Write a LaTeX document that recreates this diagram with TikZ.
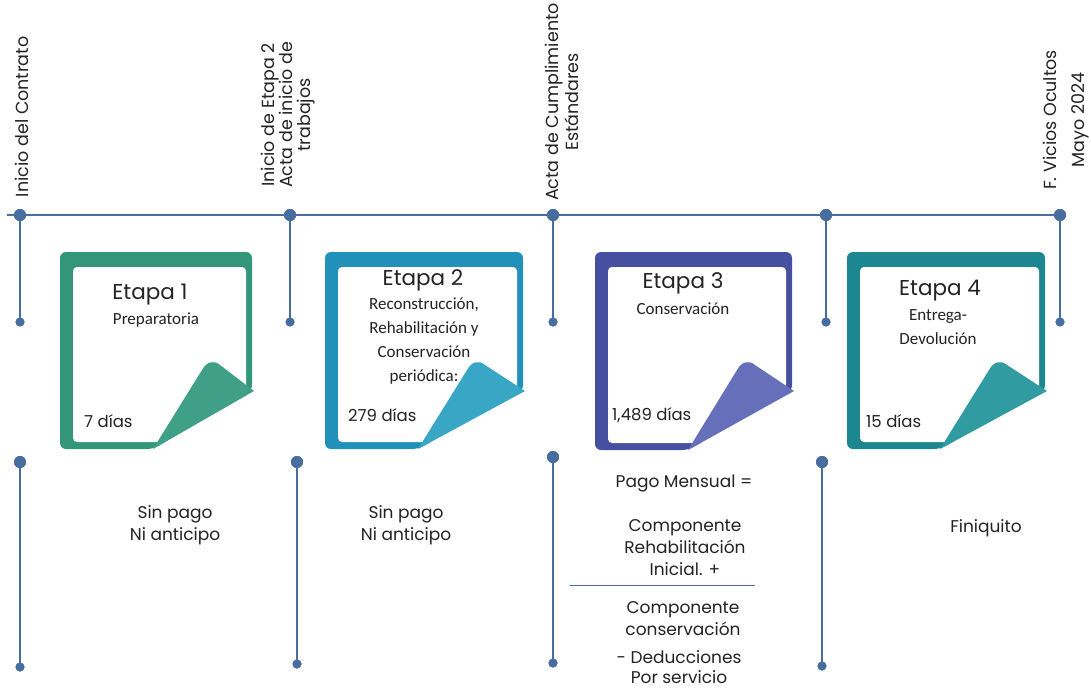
\documentclass[tikz,border=0pt]{standalone}
\usepackage{fontspec}
\setmainfont{Poppins}
\newfontfamily\calfont{Carlito}
\definecolor{tl}{RGB}{72,110,160}
\definecolor{txt}{RGB}{35,35,35}
\definecolor{g1}{RGB}{52,150,120}
\definecolor{g1f}{RGB}{64,160,135}
\definecolor{b2}{RGB}{33,145,185}
\definecolor{b2f}{RGB}{58,166,198}
\definecolor{v3}{RGB}{70,80,160}
\definecolor{v3f}{RGB}{102,112,186}
\definecolor{t4}{RGB}{28,135,145}
\definecolor{t4f}{RGB}{48,155,160}
\newcommand\drawcard[6]{%
  \begin{scope}[shift={(#1,#2)}]
    \fill[#5, rounded corners=6] (0,0) -- (#3,0) -- (#3,139) -- (93,#4) -- (0,#4) -- cycle;
    \fill[white, rounded corners=4] (13,15) rectangle (#3-6,#4-7);
    \fill[#6] (93,#4) -- (142,118) .. controls (147,109) and (154,108) .. (160,113) -- (#3+2,139) -- cycle;
  \end{scope}}
\begin{document}
\begin{tikzpicture}[x=1pt,y=-1pt,
  tline/.style={draw=tl, line width=2.6pt},
  thin rule/.style={draw=tl, line width=0.8pt},
  bigdot/.style={circle, fill=tl, inner sep=0, minimum size=12pt},
  smalldot/.style={circle, fill=tl, inner sep=0, minimum size=9pt},
  lab/.style={font=\fontsize{17.5}{18}\selectfont, text=txt, inner sep=0pt, align=center, rotate=90},
  etapa/.style={font=\fontsize{21.5}{24}\selectfont, text=txt, inner sep=0pt},
  sub/.style={font=\calfont\fontsize{17}{24}\selectfont, text=txt, align=center, inner sep=0pt},
  dias/.style={font=\fontsize{16.5}{18}\selectfont, text=txt, anchor=west, inner sep=0pt},
  note/.style={font=\fontsize{17}{22}\selectfont, text=txt, align=center, inner sep=0pt}]
\useasboundingbox (0,0) rectangle (1091,689);
\fill[white] (0,0) rectangle (1091,689);

% cards
\drawcard{60}{252}{192}{197}{g1}{g1f}
\drawcard{325}{252}{198}{197}{b2}{b2f}
\drawcard{595}{252}{197}{198}{v3}{v3f}
\drawcard{847}{252}{198}{197}{t4}{t4f}

% timeline
\coordinate (t0) at (7,215);
\node[bigdot] (t1) at (20,215) {};
\node[bigdot] (t2) at (290,215) {};
\node[bigdot] (t3) at (553,215) {};
\node[bigdot] (t4) at (826,215) {};
\node[bigdot] (t5) at (1060,215) {};
\draw[tline] (t0) -- (t5.center);
\node[smalldot] (s1) at (20,322) {};
\node[smalldot] (s2) at (290,322) {};
\node[smalldot] (s3) at (553,322) {};
\node[smalldot] (s4) at (826,322) {};
\node[smalldot] (s5) at (1060,322) {};
\foreach \i in {1,...,5} \draw[tline] (t\i.center) -- (s\i.center);
\foreach \i in {1,...,5} {\node[bigdot] at (t\i) {}; \node[smalldot] at (s\i) {};}

% bottom verticals
\node[bigdot] (u1) at (20,462) {};
\node[bigdot] (u2) at (297,462) {};
\node[bigdot] (u3) at (553,457) {};
\node[bigdot] (u4) at (822,462) {};
\node[smalldot] (v1) at (20,667) {};
\node[smalldot] (v2) at (297,664) {};
\node[smalldot] (v3) at (553,663) {};
\node[smalldot] (v4) at (822,666) {};
\foreach \i in {1,...,4} \draw[tline] (u\i.center) -- (v\i.center);
\foreach \i in {1,...,4} {\node[bigdot] at (u\i) {}; \node[smalldot] at (v\i) {};}

% top labels
\node[lab] (l1) at (22,117) {Inicio del Contrato};
\node[lab] (l2) at (288,115) {Inicio de Etapa 2\\Acta de inicio de\\trabajos};
\node[lab] (l3) at (562,102) {Acta de Cumplimiento\\Est\'andares};
\node[lab, font=\fontsize{17.5}{28}\selectfont] (l4) at (1066,120) {F. Vicios Ocultos\\Mayo 2024};

% card texts
\node[etapa] (e1) at (150,295) {Etapa 1};
\node[sub] (p1) at (156,320) {Preparatoria};
\node[dias] (d1) at (84,421) {7 días};

\node[etapa] (e2) at (423,280) {Etapa 2};
\node[sub] (p2) at (424,341) {Reconstrucción,\\Rehabilitación y\\Conservación\\periódica:};
\node[dias] (d2) at (348,415) {279 días};

\node[etapa] (e3) at (683,283) {Etapa 3};
\node[sub] (p3) at (683,309) {Conservación};
\node[dias] (d3) at (612,415) {1,489 días};

\node[etapa] (e4) at (940,291) {Etapa 4};
\node[sub] (p4) at (938,327) {Entrega-\\Devolución};
\node[dias] (d4) at (866,421) {15 días};

% bottom notes
\node[note] (n1) at (175,525) {Sin pago\\Ni anticipo};
\node[note] (n2) at (406,525) {Sin pago\\Ni anticipo};
\node[note] (n3a) at (684,483) {Pago Mensual =};
\node[note] (n3b) at (685,548) {Componente\\Rehabilitación\\Inicial. +};
\coordinate (r1) at (570,585);
\coordinate (r2) at (755,585);
\draw[thin rule] (r1) -- (r2);
\node[note] (n3c) at (683,619) {Componente\\conservación};
\node[note, font=\fontsize{17}{20}\selectfont] (n3d) at (679,667) {- Deducciones\\Por servicio};
\node[note] (n4) at (986,528) {Finiquito};
\end{tikzpicture}
\end{document}
